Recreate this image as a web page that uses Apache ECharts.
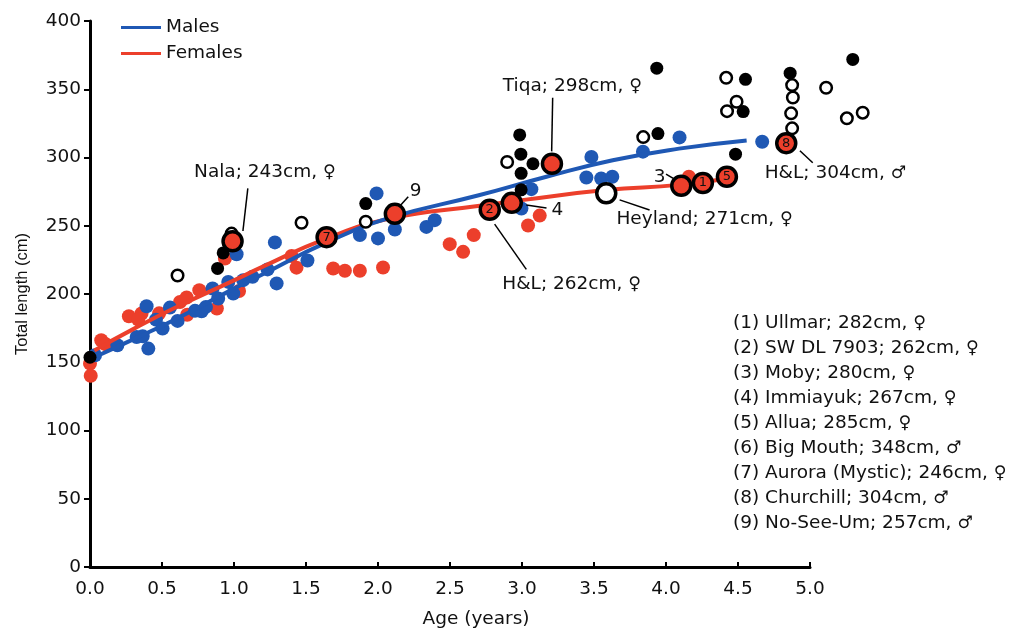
<!DOCTYPE html>
<html>
<head>
<meta charset="utf-8">
<script src="https://cdn.jsdelivr.net/npm/echarts@6/dist/echarts.min.js"></script>
<style>
  html, body { margin: 0; background: #fff; }
  #main { width: 1012px; height: 634px; }
</style>
</head>
<body>
<div id="main"></div>
<script>
// age (years), total length (cm)
const males = [
  [0.035, 156.5], [0.19, 163.7], [0.324, 169.8], [0.366, 170.3], [0.405, 161.3],
  [0.393, 192.2], [0.458, 182.4], [0.504, 175.9], [0.555, 191.2], [0.608, 181.5],
  [0.729, 188.8], [0.775, 188.5], [0.805, 191.7], [0.851, 205.1], [0.89, 197.8],
  [0.96, 209.9], [0.995, 201.5], [1.018, 230.1], [1.064, 211.2], [1.129, 213.6],
  [1.233, 219], [1.296, 208.8], [1.284, 238.7], [1.51, 225.5], [1.874, 244],
  [2.0, 241.6], [1.99, 274.4], [2.117, 248.1], [2.336, 250], [2.394, 254.9],
  [2.996, 263.4], [3.065, 277.5], [3.482, 301], [3.447, 286], [3.55, 285.3],
  [3.627, 286.5], [3.84, 304.8], [4.094, 315.2], [4.668, 312]
];
const females = [
  [0.0, 150.4], [0.005, 141.5], [0.078, 167.4], [0.11, 164.5], [0.27, 184.9],
  [0.358, 186.9], [0.335, 182.5], [0.48, 187], [0.625, 195.3], [0.671, 198.5],
  [0.675, 186], [0.759, 203.9], [0.881, 190.5], [0.937, 227], [1.035, 203.3],
  [1.4, 228.8], [1.434, 220.3], [1.689, 219.7], [1.77, 218], [1.874, 218],
  [2.035, 220.4], [2.498, 237.4], [2.591, 231.8], [2.665, 244], [3.042, 251],
  [3.123, 258.2], [4.159, 286.5]
];
const otherFilled = [
  [0.0, 155], [0.886, 219.7], [0.925, 231], [1.915, 267], [2.984, 317],
  [2.992, 303], [3.076, 296], [2.994, 289], [2.994, 277], [3.936, 365.6],
  [3.944, 318], [4.552, 357.5], [4.536, 334], [4.483, 303], [4.862, 362],
  [5.297, 372]
];
const otherOpen = [
  [0.608, 214.6], [0.983, 245.1], [1.469, 253], [1.915, 253.7], [2.897, 297.3],
  [3.842, 315.4], [4.418, 358.6], [4.49, 341.2], [4.424, 334.3], [4.876, 353.3],
  [4.881, 344.3], [4.869, 332.7], [4.876, 321.8], [5.112, 351.4], [5.256, 329.1],
  [5.366, 333.2]
];
// named individuals, with the tag drawn inside the ring
const namedPoints = [
  [0.99, 239.5], [1.643, 242.5], [2.117, 259.5], [2.776, 262.5], [2.929, 267.5],
  [3.208, 296], [4.106, 280], [4.256, 282], [4.423, 286.5], [4.835, 311]
];
const namedTags = ['', '7', '', '2', '', '', '', '1', '5', '8'];
const heylandPoint = [3.585, 274.5];

// fitted growth curves
const maleFit = [
  [0.03, 155], [0.3, 168], [0.58, 182], [1.0, 205], [1.2, 215.5], [1.64, 238.5],
  [2.08, 256.5], [2.7, 273], [3.17, 286.5], [3.63, 298.5], [4.09, 307], [4.56, 313]
];
const femaleFit = [
  [0.03, 160], [0.3, 175.5], [0.58, 190.5], [1.0, 211], [1.2, 221], [1.64, 241.5],
  [2.08, 256], [2.72, 265.5], [3.0, 269.5], [3.58, 276.8], [4.09, 280.6], [4.42, 285]
];

const xTicks = [0, 5, 0.5];
const yTicks = [0, 400, 50];

const keyLines = [
  '(1) Ullmar; 282cm, ♀',
  '(2) SW DL 7903; 262cm, ♀',
  '(3) Moby; 280cm, ♀',
  '(4) Immiayuk; 267cm, ♀',
  '(5) Allua; 285cm, ♀',
  '(6) Big Mouth; 348cm, ♂',
  '(7) Aurora (Mystic); 246cm, ♀',
  '(8) Churchill; 304cm, ♂',
  '(9) No-See-Um; 257cm, ♂'
];

// callouts: text centre, arrow start, arrow end (data units)
const notes = [
  { text: 'Nala; 243cm, ♀', at: [1.215, 290], from: [1.096, 278], to: [1.062, 247] },
  { text: '9', at: [2.262, 276], from: [2.21, 272], to: [2.15, 265] },
  { text: 'Tiqa; 298cm, ♀', at: [3.35, 352.5], from: [3.213, 344], to: [3.206, 305] },
  { text: '4', at: [3.245, 262], from: [3.17, 263.7], to: [3.03, 266] },
  { text: 'H&L; 262cm, ♀', at: [3.345, 208.2], from: [3.03, 219], to: [2.81, 252] },
  { text: 'Heyland; 271cm, ♀', at: [4.268, 255.7], from: [3.886, 262.3], to: [3.678, 269.7] },
  { text: '3', at: [3.956, 286.3], from: [4.0, 288.5], to: [4.071, 284] },
  { text: 'H&L; 304cm, ♂', at: [5.177, 289.2], from: [5.019, 296.7], to: [4.93, 305.5] }
];

const font = '"DejaVu Sans", "Liberation Sans", sans-serif';
const fs = 18.5;
const blue = '#1f58b4';
const red = '#ec3f2b';
const ink = '#111';
const sexRich = { s: { fontFamily: '"DejaVu Sans"', fontWeight: 'normal', fontSize: 17.5, color: ink } };
const withSex = t => t.replace(/([♀♂])/g, '{s|$1}');

const chart = echarts.init(document.getElementById('main'));

chart.setOption({
  animation: false,
  textStyle: { fontFamily: font, color: ink },
  legend: {
    orient: 'vertical',
    left: 116,
    top: 13,
    itemWidth: 40,
    itemHeight: 3,
    itemGap: 7,
    icon: 'rect',
    textStyle: { fontSize: fs, color: ink, fontFamily: font },
    data: ['Males', 'Females']
  },
  grid: [
    { left: 90, top: 21, width: 720, height: 549 },
    { left: 90, top: 21, width: 792, height: 549 }
  ],
  xAxis: [
    {
      gridIndex: 0, type: 'value', min: xTicks[0], max: xTicks[1], interval: xTicks[2],
      name: 'Age (years)', nameLocation: 'middle', nameGap: 43,
      nameTextStyle: { fontSize: fs, color: ink, fontFamily: font, padding: [0, 0, 0, 52] },
      axisLine: { lineStyle: { color: '#000', width: 3 } },
      axisTick: { inside: true, length: 5, lineStyle: { color: '#000', width: 2 } },
      axisLabel: { fontSize: fs, color: ink, fontFamily: font, margin: 13, formatter: v => v.toFixed(1) },
      splitLine: { show: false }
    },
    { gridIndex: 1, type: 'value', min: 0, max: 5.5, show: false }
  ],
  yAxis: [
    {
      gridIndex: 0, type: 'value', min: yTicks[0], max: yTicks[1], interval: yTicks[2],
      name: 'Total length (cm)', nameLocation: 'middle', nameGap: 59,
      nameTextStyle: { fontSize: 16.5, color: ink, fontFamily: '"Liberation Sans", Arial, sans-serif' },
      axisLine: { show: true, lineStyle: { color: '#000', width: 3 } },
      axisTick: { show: true, length: 6, lineStyle: { color: '#000', width: 2 } },
      axisLabel: { fontSize: fs, color: ink, fontFamily: font, margin: 9 },
      splitLine: { show: false }
    },
    { gridIndex: 1, type: 'value', min: 0, max: 400, show: false }
  ],
  graphic: [{
    type: 'text',
    left: 733,
    top: 311,
    style: {
      text: keyLines.map(withSex).join('\n'),
      font: fs + 'px ' + font,
      lineHeight: 25,
      fill: ink,
      rich: sexRich
    }
  }],
  series: [
    {
      name: 'Females', type: 'scatter', xAxisIndex: 1, yAxisIndex: 1,
      data: females, symbolSize: 14, itemStyle: { color: red, opacity: 1 }
    },
    {
      name: 'Males', type: 'scatter', xAxisIndex: 1, yAxisIndex: 1,
      data: males, symbolSize: 14, itemStyle: { color: blue, opacity: 1 }
    },
    {
      name: 'Females', type: 'line', xAxisIndex: 1, yAxisIndex: 1,
      data: femaleFit, smooth: true, showSymbol: false, symbol: 'none',
      lineStyle: { color: red, width: 4 }, itemStyle: { color: red }, z: 3
    },
    {
      name: 'Males', type: 'line', xAxisIndex: 1, yAxisIndex: 1,
      data: maleFit, smooth: true, showSymbol: false, symbol: 'none',
      lineStyle: { color: blue, width: 4 }, itemStyle: { color: blue }, z: 3
    },
    {
      type: 'scatter', xAxisIndex: 1, yAxisIndex: 1, data: otherFilled,
      symbolSize: 13, itemStyle: { color: '#000', opacity: 1 }, z: 4
    },
    {
      type: 'scatter', xAxisIndex: 1, yAxisIndex: 1, data: otherOpen,
      symbolSize: 11.5, itemStyle: { color: '#fff', borderColor: '#000', borderWidth: 2.5, opacity: 1 }, z: 4
    },
    {
      type: 'scatter', xAxisIndex: 1, yAxisIndex: 1,
      data: namedPoints.map((p, i) => ({ value: p, name: namedTags[i] })),
      symbolSize: 19,
      itemStyle: { color: red, borderColor: '#000', borderWidth: 3.5, opacity: 1 },
      label: { show: true, position: 'inside', formatter: '{b}', fontSize: 13, color: ink, fontFamily: font },
      z: 5
    },
    {
      type: 'scatter', xAxisIndex: 1, yAxisIndex: 1, data: [heylandPoint],
      symbolSize: 19,
      itemStyle: { color: '#fff', borderColor: '#000', borderWidth: 3.5, opacity: 1 },
      z: 5
    },
    {
      type: 'scatter', xAxisIndex: 1, yAxisIndex: 1,
      data: notes.map(n => ({ value: n.at, name: n.text })),
      symbolSize: 0, itemStyle: { color: '#000', opacity: 1 },
      label: {
        show: true, position: 'inside', fontSize: fs, color: ink, fontFamily: font,
        textBorderWidth: 0, formatter: p => withSex(p.name), rich: sexRich
      },
      silent: true,
      markLine: {
        silent: true,
        symbol: ['none', 'arrow'],
        symbolSize: [0, 9],
        label: { show: false },
        lineStyle: { color: '#000', width: 1.5, type: 'solid' },
        data: notes.map(n => [{ coord: n.from }, { coord: n.to }])
      },
      z: 6
    }
  ]
});
</script>
</body>
</html>
